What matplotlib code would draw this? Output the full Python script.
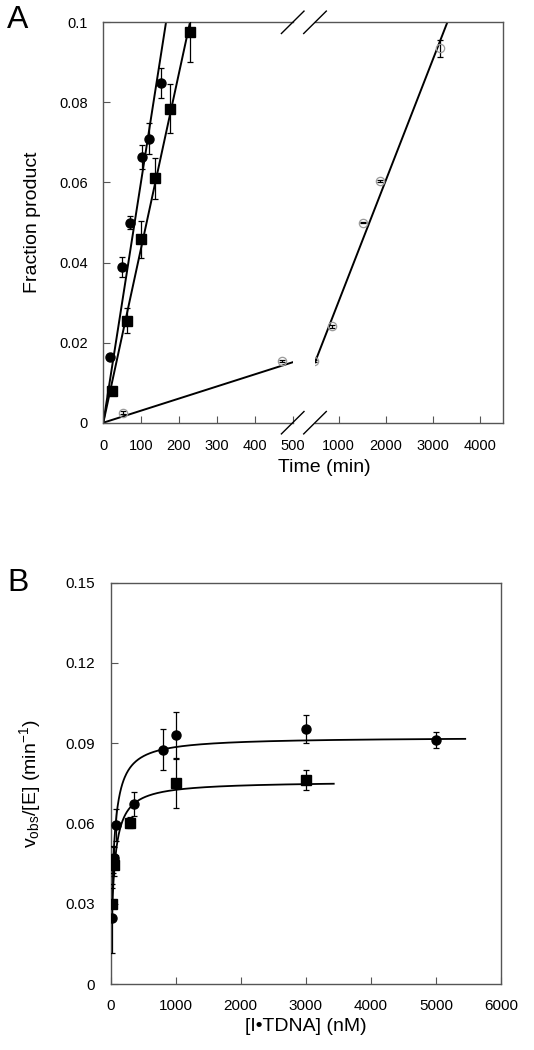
import numpy as np
import matplotlib
matplotlib.use("Agg")
import matplotlib.pyplot as plt
from matplotlib.lines import Line2D

plt.rcParams['font.family'] = ['Liberation Sans', 'DejaVu Sans']
plt.rcParams['mathtext.fontset'] = 'custom'
plt.rcParams['mathtext.rm'] = 'Liberation Sans'
plt.rcParams['mathtext.it'] = 'Liberation Sans:italic'

# ---- panel A: fraction product vs time ----
circ_time = [19, 50, 70, 103, 121, 152]
circ_frac = [0.0165, 0.039, 0.050, 0.0663, 0.0709, 0.0848]
circ_err = [0.0005, 0.0025, 0.0017, 0.003, 0.0039, 0.0037]

sq_time = [22, 62, 100, 136, 177, 229]
sq_frac = [0.008, 0.0255, 0.0458, 0.061, 0.0784, 0.0976]
sq_err = [0.0005, 0.0032, 0.0046, 0.0051, 0.0061, 0.0075]

open_time = [53, 473, 855, 1526, 1888, 3163]
open_frac = [0.0025, 0.0154, 0.0241, 0.0500, 0.0604, 0.0935]
open_err = [0.0003, 0.0003, 0.0004, 0.0002, 0.0002, 0.0022]

# linear fits through the origin (fraction per min)
circ_slope = 6.04e-4
sq_slope = 4.37e-4
open_slope = 3.02e-5

# ---- panel B: vobs/[E] vs [I.TDNA] ----
b_circ_conc = [25, 50, 86, 357, 800, 1000, 3000, 5000]
b_circ_rate = [0.0245, 0.047, 0.0594, 0.0671, 0.0875, 0.0931, 0.0952, 0.0912]
b_circ_err = [0.013, 0.004, 0.006, 0.0045, 0.0076, 0.0086, 0.0052, 0.003]

b_sq_conc = [25, 40, 55, 300, 1000, 3000]
b_sq_rate = [0.030, 0.0465, 0.0445, 0.0603, 0.075, 0.0762]
b_sq_err = [0.006, 0.005, 0.004, 0.0022, 0.0092, 0.0038]

# hyperbolic fits: kobs = vmax*S/(K+S)
circ_vmax, circ_k, circ_xmax = 0.0923, 42.7, 5450
sq_vmax, sq_k, sq_xmax = 0.0758, 45.0, 3430

spine_col = '#555555'

fig = plt.figure(figsize=(5.34, 10.5), dpi=100)
W, H = 534.0, 1050.0

ax1 = fig.add_axes([103.3 / W, 1 - 422.7 / H, 189.4 / W, 400.4 / H])
ax2 = fig.add_axes([315.0 / W, 1 - 422.7 / H, 188.3 / W, 400.4 / H])

for ax in (ax1, ax2):
    for s in ax.spines.values():
        s.set_color(spine_col)
        s.set_linewidth(1.0)
    ax.set_ylim(0, 0.1)
    ax.tick_params(direction='in', length=5, width=0.8, color=spine_col,
                   labelsize=10.5)
    ax.tick_params(axis='x', pad=12)
    ax.tick_params(axis='y', pad=11)

ax1.spines['right'].set_visible(False)
ax2.spines['left'].set_visible(False)
ax1.set_xlim(0, 500)
ax2.set_xlim(500, 4500)
ax1.set_xticks([0, 100, 200, 300, 400, 500])
ax2.set_xticks([1000, 2000, 3000, 4000])
ax1.set_yticks([0, 0.02, 0.04, 0.06, 0.08, 0.1])
ax1.set_yticklabels(['0', '0.02', '0.04', '0.06', '0.08', '0.1'])
ax2.set_yticks([])

t_c = np.array([0, 0.1 / circ_slope])
t_s = np.array([0, 0.1 / sq_slope])
ax1.plot(t_c, circ_slope * t_c, color='black', lw=1.4, zorder=2)
ax1.plot(t_s, sq_slope * t_s, color='black', lw=1.4, zorder=2)
t_o1 = np.array([0, 500])
ax1.plot(t_o1, open_slope * t_o1, color='black', lw=1.4, zorder=2)
t_o2 = np.array([500, 0.1 / open_slope])
ax2.plot(t_o2, open_slope * t_o2, color='black', lw=1.4, zorder=2)

ax1.errorbar(circ_time, circ_frac, yerr=circ_err, fmt='o', color='black',
             ms=6.5, capsize=2, elinewidth=0.9, capthick=0.9, zorder=4)
ax1.errorbar(sq_time, sq_frac, yerr=sq_err, fmt='s', color='black',
             ms=6.5, capsize=2, elinewidth=0.9, capthick=0.9, zorder=4)
for ax in (ax1, ax2):
    ax.errorbar(open_time, open_frac, yerr=open_err, fmt='none', ecolor='black',
                capsize=2, elinewidth=0.9, capthick=0.9, zorder=3)
    ax.plot(open_time, open_frac, 'o', mfc='none', mec='#9a9a9a', ms=6,
            mew=0.9, zorder=4)

# axis break marks
p1 = ax1.get_position()
p2 = ax2.get_position()
dx, dy = 11.3 / W, 11.2 / H
for xc in (p1.x1, p2.x0):
    for yc in (p1.y0, p1.y1):
        fig.add_artist(Line2D([xc - dx, xc + dx], [yc - dy, yc + dy],
                              color='black', lw=1.0))

ax1.set_ylabel('Fraction product', fontsize=14)
ax1.yaxis.set_label_coords(-0.33, 0.5)
fig.text(324 / W, 1 - 468 / H, 'Time (min)', fontsize=14, ha='center', va='center')
fig.text(7 / W, 1 - 20 / H, 'A', fontsize=23, ha='left', va='center')

# ---- panel B ----
axb = fig.add_axes([110.5 / W, 1 - 984 / H, 390.5 / W, 401.5 / H])
for s in axb.spines.values():
    s.set_color(spine_col)
    s.set_linewidth(1.0)
axb.tick_params(direction='in', length=5, width=0.8, color=spine_col,
                labelsize=11)
axb.tick_params(axis='x', pad=11)
axb.tick_params(axis='y', pad=11)
axb.set_xlim(0, 6000)
axb.set_ylim(0, 0.15)
axb.set_xticks([0, 1000, 2000, 3000, 4000, 5000, 6000])
axb.set_yticks([0, 0.03, 0.06, 0.09, 0.12, 0.15])
axb.set_yticklabels(['0', '0.03', '0.06', '0.09', '0.12', '0.15'])

xc = np.linspace(0, circ_xmax, 600)
axb.plot(xc, circ_vmax * xc / (circ_k + xc), color='black', lw=1.3, zorder=2)
xs = np.linspace(0, sq_xmax, 600)
axb.plot(xs, sq_vmax * xs / (sq_k + xs), color='black', lw=1.3, zorder=2)

axb.errorbar(b_circ_conc, b_circ_rate, yerr=b_circ_err, fmt='o', color='black',
             ms=6.5, capsize=2, elinewidth=0.9, capthick=0.9, zorder=4)
axb.errorbar(b_sq_conc, b_sq_rate, yerr=b_sq_err, fmt='s', color='black',
             ms=6.5, capsize=2, elinewidth=0.9, capthick=0.9, zorder=4)

axb.set_xlabel('[I\u2022TDNA] (nM)', fontsize=14)
axb.xaxis.label.set_verticalalignment('center')
axb.xaxis.set_label_coords(0.5, -0.107)
axb.set_ylabel(r'v$_{\mathrm{obs}}$/[E] (min$^{\mathrm{-1}}$)', fontsize=14)
axb.yaxis.set_label_coords(-0.173, 0.5)
fig.text(7 / W, 1 - 583 / H, 'B', fontsize=23, ha='left', va='center')

fig.savefig('out.png', dpi=100)
